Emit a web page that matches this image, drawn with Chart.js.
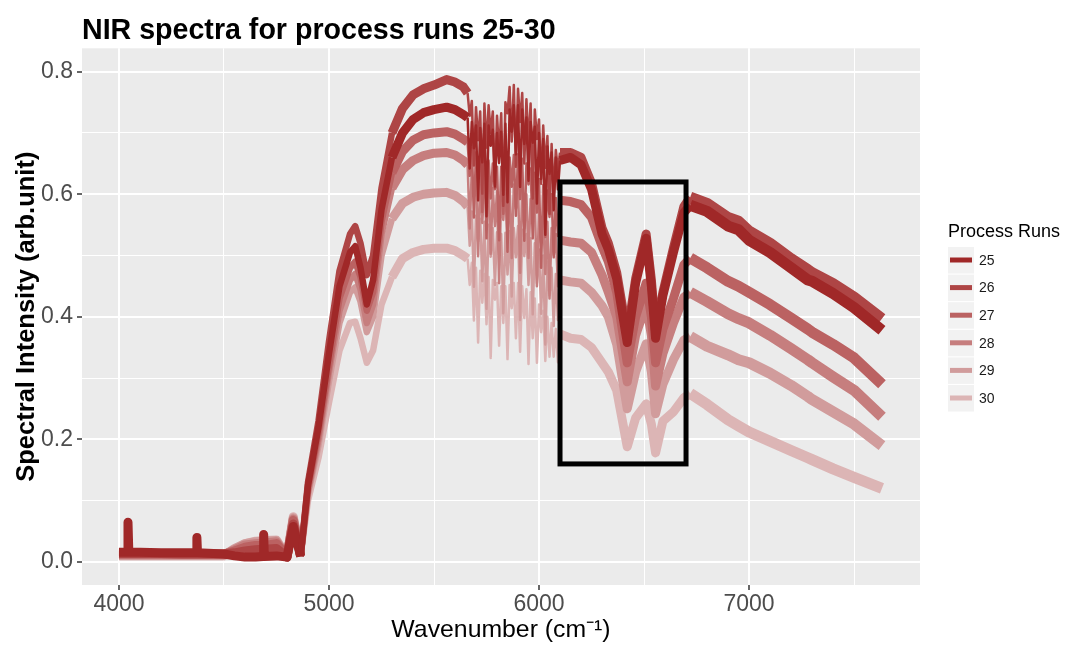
<!DOCTYPE html>
<html>
<head>
<meta charset="utf-8">
<script src="https://cdn.jsdelivr.net/npm/chart.js@4/dist/chart.umd.min.js"></script>
<style>
html,body{margin:0;padding:0;background:#ffffff;}
#wrap{width:1067px;height:657px;position:relative;}
</style>
</head>
<body>
<div id="wrap"><canvas id="c" width="1067" height="657"></canvas></div>
<script>
const chartTitle = 'NIR spectra for process runs 25-30';
const xAxisTitle = 'Wavenumber (cm\u207B\u00B9)';
const yAxisTitle = 'Spectral Intensity (arb.unit)';
const legendTitle = 'Process Runs';
const runNames = ['25', '26', '27', '28', '29', '30'];
const runColors = ['#a02828', '#ae4545', '#bb6262', '#c67e7e', '#d19c9c', '#dcb5b5'];

const xMajorTicks = [4000, 5000, 6000, 7000];
const xMinorTicks = [4500, 5500, 6500, 7500];
const yMajorTicks = [0, 0.2, 0.4, 0.6, 0.8];
const yMinorTicks = [0.1, 0.3, 0.5, 0.7];
const xRange = [3824, 7814];
const yRange = [-0.0375, 0.838];
const highlightBox = [6100, 6700, 0.16, 0.62]; // x from, x to, y from, y to
const noisyRange = [5650, 6110];
const steepRange = [4860, 5300];
const wideFrom = 6700;

const wavenumber = [4000,4040,4043,4047,4100,4200,4300,4368,4371,4374,4450,4500,4550,4600,4650,4686,4689,4692,4750,4800,4830,4865,4900,4950,5000,5050,5100,5125,5150,5180,5210,5250,5300,5350,5400,5450,5500,5560,5600,5640,
5660,5670,5680,5690,5700,5710,5720,5730,5740,5750,5760,5770,5780,5790,5800,5810,5820,5830,5840,5850,5860,5870,5880,5890,5900,5910,5920,5930,5940,5950,5960,5970,5980,5990,6000,6010,6020,6030,6040,6050,6060,6070,6080,6090,6100,
6150,6200,6250,6300,6330,6370,6420,6460,6510,6535,6555,6590,6640,6690,6720,6800,6900,6950,7000,7100,7200,7280,7300,7400,7500,7633];

const run25 = [0.016,0.016,0.065,0.016,0.016,0.015,0.015,0.015,0.040,0.015,0.014,0.013,0.010,0.008,0.008,0.009,0.045,0.009,0.010,0.008,0.058,0.009,0.125,0.22,0.34,0.45,0.505,0.515,0.48,0.42,0.46,0.575,0.66,0.70,0.722,0.733,0.738,0.742,0.738,0.73,
0.725,0.642,0.718,0.675,0.712,0.59,0.708,0.652,0.715,0.564,0.712,0.679,0.705,0.613,0.70,0.651,0.702,0.599,0.715,0.587,0.738,0.702,0.745,0.665,0.745,0.612,0.738,0.682,0.725,0.622,0.718,0.684,0.71,0.585,0.70,0.625,0.69,0.534,0.678,0.633,0.668,0.574,0.66,0.608,0.655,
0.66,0.648,0.608,0.535,0.51,0.462,0.358,0.455,0.528,0.45,0.365,0.435,0.505,0.57,0.582,0.572,0.548,0.542,0.525,0.505,0.48,0.46,0.458,0.438,0.415,0.378];

const run26 = [0.014,0.014,0.014,0.014,0.014,0.014,0.013,0.013,0.013,0.013,0.013,0.013,0.015,0.018,0.020,0.021,0.021,0.021,0.022,0.009,0.062,0.010,0.13,0.23,0.36,0.475,0.535,0.548,0.52,0.468,0.50,0.61,0.70,0.74,0.762,0.772,0.778,0.787,0.783,0.775,
0.765,0.728,0.752,0.647,0.742,0.688,0.735,0.601,0.748,0.676,0.745,0.70,0.735,0.611,0.728,0.67,0.732,0.581,0.75,0.732,0.775,0.686,0.778,0.645,0.772,0.718,0.765,0.65,0.755,0.681,0.748,0.593,0.738,0.69,0.722,0.617,0.712,0.643,0.695,0.568,0.682,0.597,0.672,0.64,0.668,
0.668,0.66,0.618,0.545,0.52,0.472,0.37,0.462,0.535,0.46,0.375,0.44,0.512,0.58,0.595,0.585,0.562,0.556,0.54,0.52,0.495,0.477,0.472,0.454,0.432,0.397];

const run27 = [0.013,0.013,0.013,0.013,0.013,0.013,0.013,0.013,0.013,0.013,0.013,0.013,0.018,0.024,0.027,0.027,0.027,0.027,0.030,0.008,0.068,0.010,0.12,0.21,0.32,0.43,0.48,0.49,0.465,0.41,0.44,0.555,0.635,0.67,0.688,0.697,0.70,0.702,0.698,0.69,
0.685,0.63,0.676,0.562,0.668,0.635,0.662,0.571,0.66,0.528,0.655,0.593,0.65,0.608,0.645,0.525,0.645,0.568,0.652,0.506,0.66,0.612,0.664,0.565,0.665,0.592,0.658,0.524,0.65,0.616,0.642,0.528,0.635,0.57,0.625,0.48,0.615,0.53,0.606,0.563,0.60,0.497,0.594,0.532,0.59,
0.588,0.583,0.562,0.515,0.49,0.44,0.325,0.40,0.455,0.40,0.325,0.38,0.43,0.485,0.496,0.48,0.458,0.45,0.44,0.42,0.398,0.38,0.375,0.355,0.333,0.29];

const run28 = [0.012,0.012,0.012,0.012,0.012,0.012,0.012,0.012,0.012,0.012,0.012,0.012,0.020,0.028,0.030,0.031,0.031,0.031,0.033,0.008,0.070,0.010,0.115,0.20,0.31,0.41,0.46,0.47,0.445,0.39,0.42,0.535,0.61,0.64,0.655,0.663,0.667,0.668,0.664,0.655,
0.648,0.544,0.64,0.596,0.632,0.499,0.625,0.553,0.62,0.588,0.615,0.503,0.61,0.548,0.605,0.455,0.605,0.558,0.61,0.523,0.615,0.496,0.616,0.576,0.615,0.472,0.608,0.544,0.60,0.496,0.592,0.559,0.585,0.45,0.575,0.52,0.565,0.47,0.555,0.43,0.545,0.50,0.535,0.45,0.525,
0.522,0.52,0.505,0.468,0.44,0.40,0.294,0.37,0.42,0.37,0.287,0.34,0.39,0.432,0.44,0.425,0.405,0.397,0.39,0.37,0.348,0.33,0.325,0.302,0.28,0.237];

const run29 = [0.011,0.011,0.011,0.011,0.011,0.011,0.011,0.011,0.011,0.011,0.011,0.011,0.022,0.030,0.033,0.034,0.034,0.034,0.035,0.008,0.072,0.010,0.11,0.19,0.295,0.39,0.44,0.448,0.425,0.375,0.40,0.50,0.56,0.585,0.595,0.60,0.602,0.603,0.598,0.588,
0.58,0.516,0.572,0.449,0.565,0.523,0.56,0.458,0.555,0.413,0.55,0.498,0.545,0.452,0.538,0.507,0.535,0.406,0.537,0.469,0.54,0.433,0.545,0.497,0.548,0.395,0.542,0.499,0.535,0.452,0.528,0.404,0.52,0.455,0.51,0.405,0.50,0.355,0.49,0.435,0.48,0.385,0.47,0.395,0.46,
0.457,0.455,0.44,0.418,0.40,0.355,0.25,0.31,0.356,0.31,0.242,0.29,0.33,0.362,0.368,0.352,0.338,0.33,0.325,0.308,0.288,0.27,0.265,0.245,0.225,0.19];

const run30 = [0.010,0.010,0.010,0.010,0.010,0.010,0.010,0.010,0.010,0.010,0.010,0.010,0.020,0.030,0.034,0.035,0.035,0.035,0.036,0.009,0.074,0.010,0.10,0.17,0.26,0.345,0.39,0.392,0.365,0.325,0.345,0.42,0.465,0.495,0.505,0.51,0.512,0.512,0.508,0.50,
0.495,0.452,0.488,0.394,0.48,0.358,0.475,0.423,0.47,0.388,0.465,0.333,0.46,0.428,0.455,0.353,0.45,0.39,0.45,0.331,0.452,0.414,0.455,0.365,0.455,0.343,0.45,0.398,0.445,0.323,0.44,0.365,0.43,0.325,0.42,0.375,0.41,0.328,0.40,0.335,0.39,0.335,0.38,0.326,0.372,
0.365,0.363,0.35,0.325,0.31,0.28,0.188,0.235,0.258,0.225,0.178,0.23,0.245,0.268,0.275,0.257,0.232,0.222,0.212,0.197,0.182,0.17,0.167,0.152,0.138,0.12];

const runValues = [run25, run26, run27, run28, run29, run30];

const FONT = '"Liberation Sans", Arial, Helvetica, sans-serif';

function segWidth(c) {
  const a = c.p0.parsed.x, b = c.p1.parsed.x;
  if (a >= noisyRange[0] && b <= noisyRange[1]) return 2.5;
  if (a >= steepRange[0] && b <= steepRange[1]) return 6.5;
  if (a >= wideFrom) return 11;
  return 9;
}

const datasets = runNames.map((name, i) => ({
  label: name,
  data: wavenumber.map((w, k) => ({ x: w, y: runValues[i][k] })),
  borderColor: runColors[i],
  backgroundColor: runColors[i],
  borderWidth: 9,
  borderJoinStyle: 'round',
  borderCapStyle: 'butt',
  pointRadius: 0,
  tension: 0,
  fill: false,
  segment: { borderWidth: segWidth }
}));

const panelPlugin = {
  id: 'panelBg',
  beforeDraw(chart) {
    const { ctx, chartArea: a } = chart;
    ctx.save();
    ctx.fillStyle = '#ffffff';
    ctx.fillRect(0, 0, chart.width, chart.height);
    ctx.fillStyle = '#ebebeb';
    ctx.fillRect(a.left, a.top, a.right - a.left, a.bottom - a.top);
    ctx.restore();
  }
};

const boxPlugin = {
  id: 'highlightBox',
  afterDatasetsDraw(chart) {
    const { ctx, scales } = chart;
    const x0 = scales.x.getPixelForValue(highlightBox[0]);
    const x1 = scales.x.getPixelForValue(highlightBox[1]);
    const y0 = scales.y.getPixelForValue(highlightBox[2]);
    const y1 = scales.y.getPixelForValue(highlightBox[3]);
    ctx.save();
    ctx.strokeStyle = '#000000';
    ctx.lineWidth = 5;
    ctx.lineJoin = 'miter';
    ctx.strokeRect(x0, y1, x1 - x0, y0 - y1);
    ctx.restore();
  }
};

const legendPlugin = {
  id: 'ggLegend',
  afterDraw(chart) {
    const ctx = chart.ctx;
    const a = chart.chartArea;
    const left = a.right + 28;
    ctx.save();
    ctx.textBaseline = 'middle';
    ctx.textAlign = 'left';
    ctx.fillStyle = '#000000';
    ctx.font = '18px ' + FONT;
    ctx.fillText(legendTitle, left, 232);
    runNames.forEach((name, i) => {
      const cy = 260 + i * 27.6;
      ctx.fillStyle = '#f2f2f2';
      ctx.fillRect(left, cy - 13, 26, 26.5);
      ctx.strokeStyle = runColors[i];
      ctx.lineWidth = 5;
      ctx.beginPath();
      ctx.moveTo(left + 2, cy);
      ctx.lineTo(left + 24, cy);
      ctx.stroke();
      ctx.fillStyle = '#1a1a1a';
      ctx.font = '14px ' + FONT;
      ctx.fillText(name, left + 31, cy + 1);
    });
    ctx.restore();
  }
};

function tickList(major, minor) {
  return major.concat(minor).sort((p, q) => p - q).map(v => ({ value: v }));
}
function isMajor(list, v) {
  return list.some(m => Math.abs(m - v) < 1e-9);
}

new Chart(document.getElementById('c'), {
  type: 'line',
  data: { datasets },
  plugins: [panelPlugin, boxPlugin, legendPlugin],
  options: {
    responsive: false,
    animation: false,
    events: [],
    layout: { padding: { left: 0, right: 147, top: 0, bottom: 0 } },
    plugins: {
      legend: { display: false },
      tooltip: { enabled: false },
      title: {
        display: true,
        text: chartTitle,
        align: 'start',
        fullSize: false,
        color: '#000000',
        font: { family: FONT, size: 28.6, weight: 'bold' },
        padding: { top: 14, bottom: 0 }
      }
    },
    scales: {
      x: {
        type: 'linear',
        min: xRange[0],
        max: xRange[1],
        afterBuildTicks: s => { s.ticks = tickList(xMajorTicks, xMinorTicks); },
        afterFit: s => { s.height = 72; },
        border: { display: false },
        grid: {
          color: '#ffffff',
          lineWidth: c => isMajor(xMajorTicks, c.tick.value) ? 2 : 1,
          tickColor: c => isMajor(xMajorTicks, c.tick.value) ? '#333333' : 'rgba(0,0,0,0)',
          tickWidth: 1.5,
          tickLength: 5,
          drawTicks: true
        },
        ticks: {
          autoSkip: false,
          maxRotation: 0,
          padding: 1,
          color: '#4d4d4d',
          font: { family: FONT, size: 23 },
          callback: v => isMajor(xMajorTicks, v) ? String(v) : ''
        },
        title: {
          display: true,
          text: xAxisTitle,
          color: '#000000',
          font: { family: FONT, size: 24.8 },
          padding: { top: 0, bottom: 12 }
        }
      },
      y: {
        type: 'linear',
        min: yRange[0],
        max: yRange[1],
        afterBuildTicks: s => { s.ticks = tickList(yMajorTicks, yMinorTicks); },
        afterFit: s => { s.width = 82; },
        border: { display: false },
        grid: {
          color: '#ffffff',
          lineWidth: c => isMajor(yMajorTicks, c.tick.value) ? 2 : 1,
          tickColor: c => isMajor(yMajorTicks, c.tick.value) ? '#333333' : 'rgba(0,0,0,0)',
          tickWidth: 1.5,
          tickLength: 5,
          drawTicks: true
        },
        ticks: {
          autoSkip: false,
          padding: 4,
          color: '#4d4d4d',
          font: { family: FONT, size: 23 },
          callback: v => isMajor(yMajorTicks, v) ? v.toFixed(1) : ''
        },
        title: {
          display: true,
          text: yAxisTitle,
          color: '#000000',
          font: { family: FONT, size: 25.5, weight: 'bold' },
          padding: { top: 12, bottom: 0 }
        }
      }
    }
  }
});
</script>
</body>
</html>
